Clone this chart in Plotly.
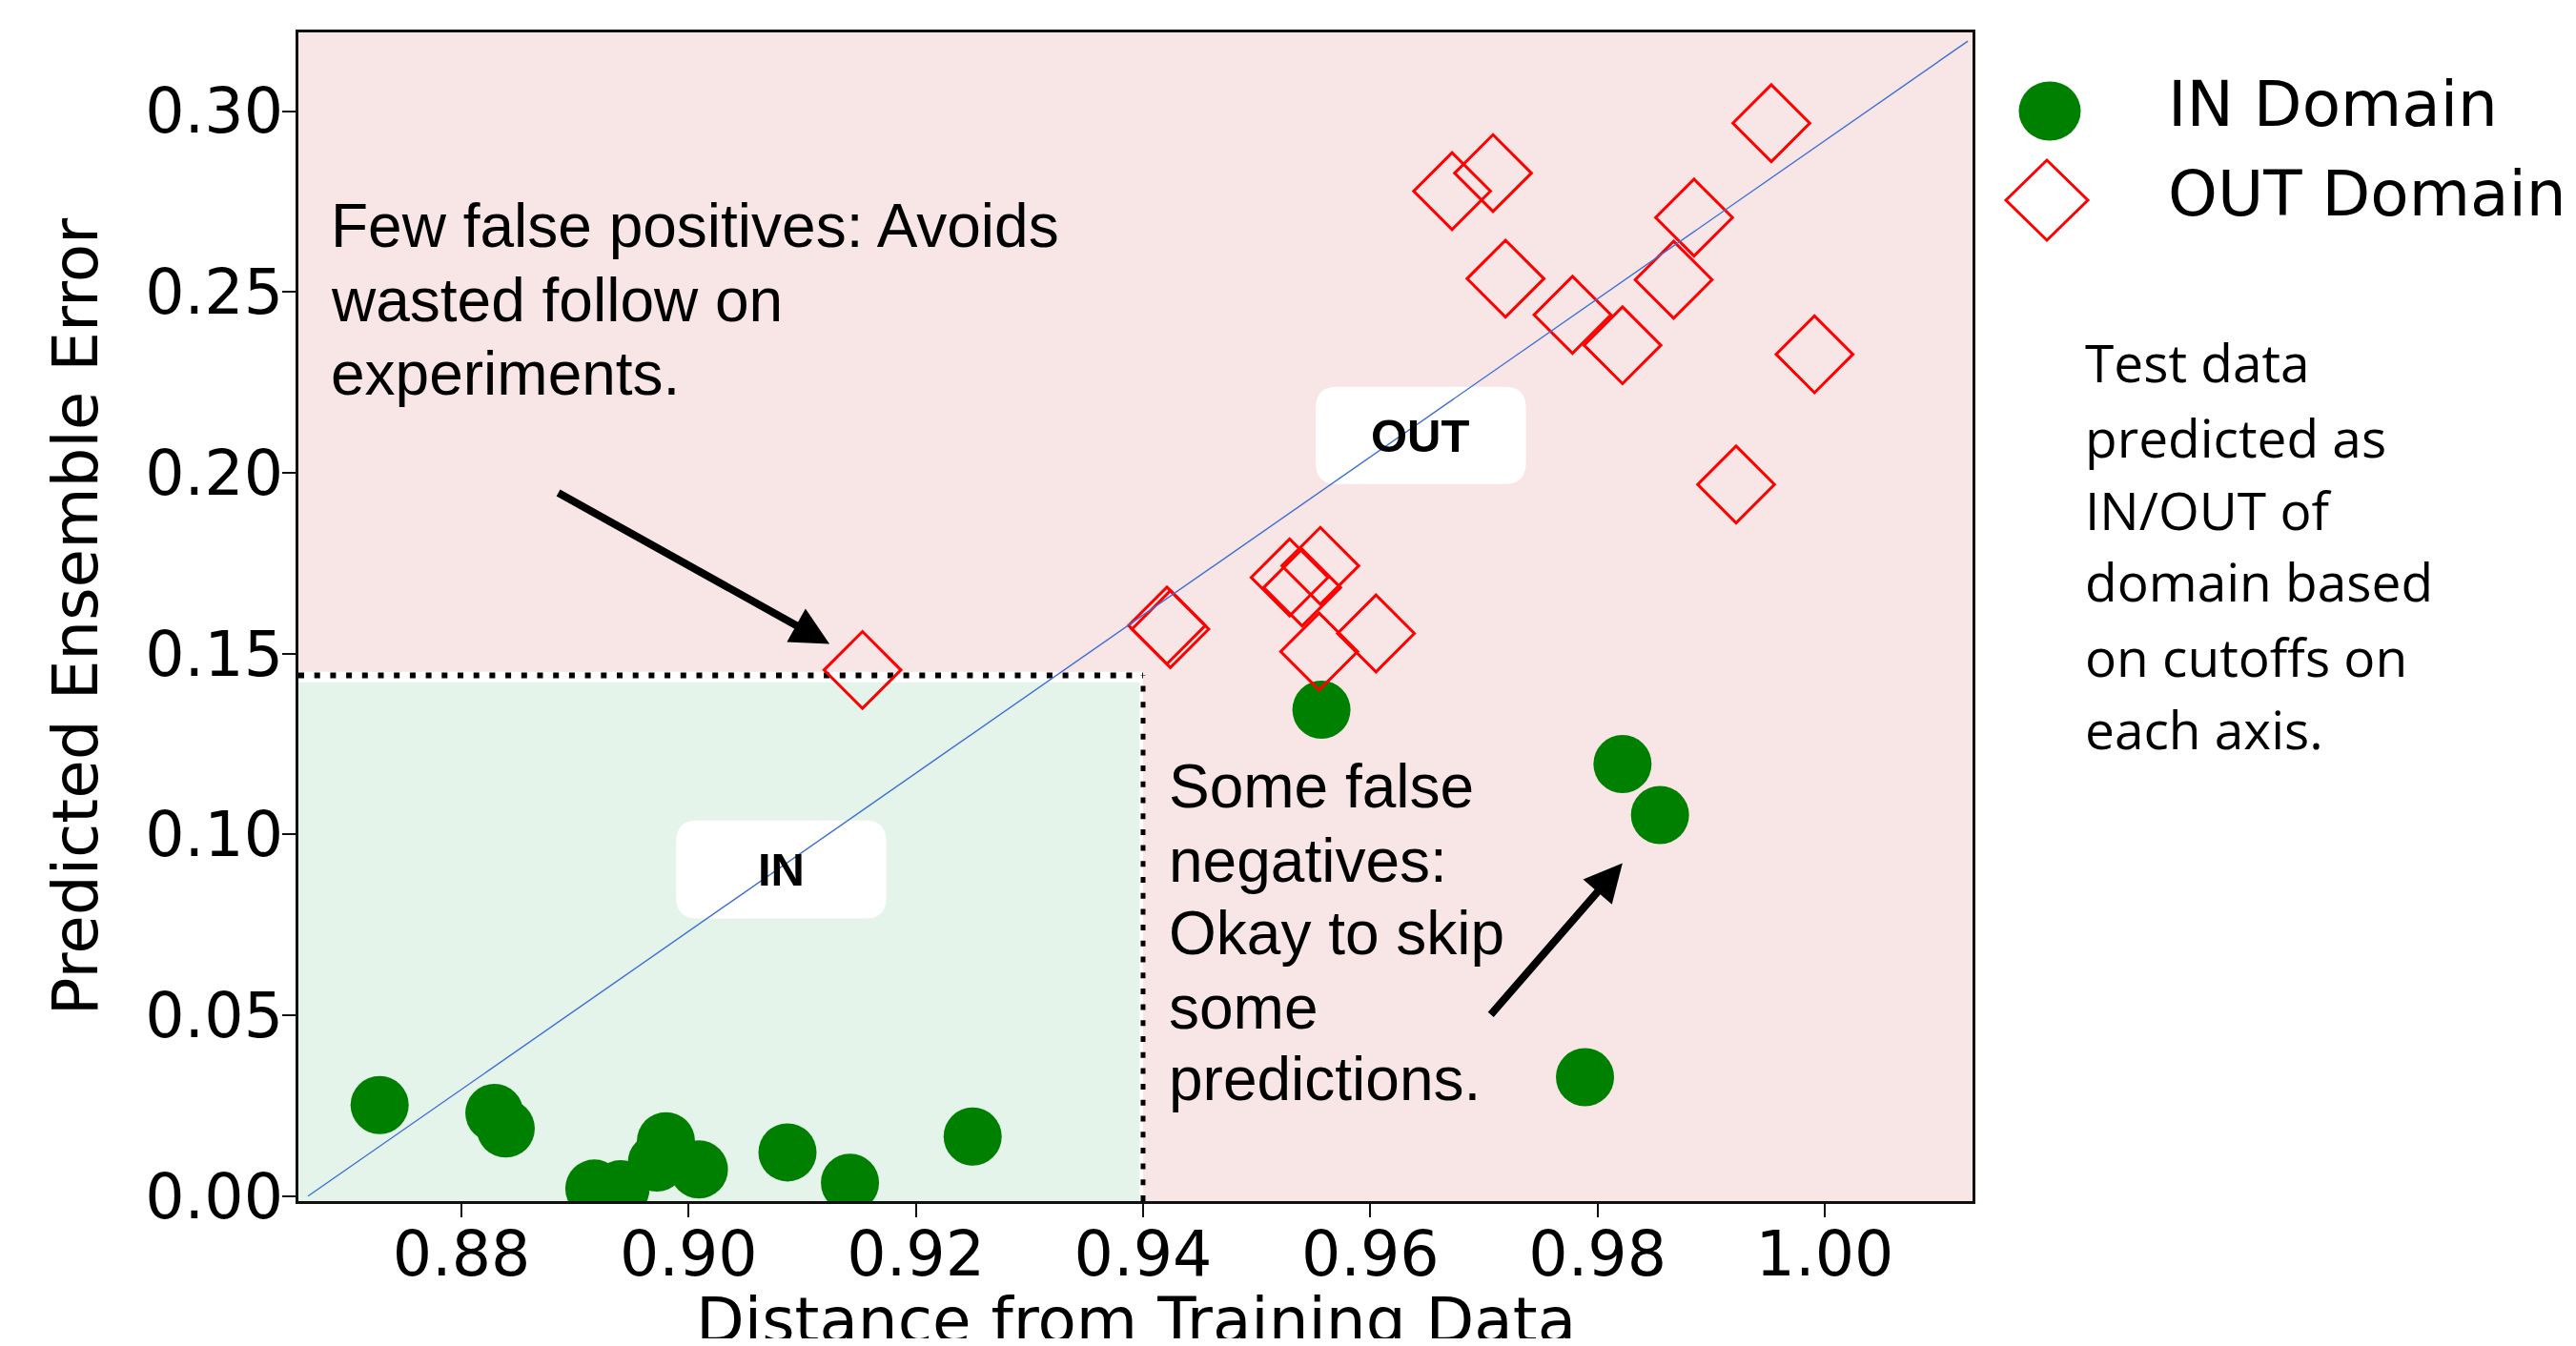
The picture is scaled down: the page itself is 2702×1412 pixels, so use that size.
import plotly.graph_objects as go

# ---------------- data ----------------
in_x = [0.8728, 0.8829, 0.8839, 0.8917, 0.8940, 0.8972, 0.8980, 0.9009, 0.9087, 0.9142, 0.9250, 0.9557, 0.9822, 0.9855, 0.9789]
in_y = [0.0252, 0.0230, 0.0187, 0.0021, 0.0019, 0.0093, 0.0152, 0.0074, 0.0121, 0.0037, 0.0165, 0.1345, 0.1195, 0.1054, 0.0329]

out_x = [0.9953, 0.9708, 0.9672, 0.9885, 0.9719, 0.9867, 0.9778, 0.9822, 0.9991, 0.9922,
         0.9556, 0.9529, 0.9540, 0.9555, 0.9605, 0.9421, 0.9424, 0.9153]
out_y = [0.2967, 0.2829, 0.2779, 0.2706, 0.2537, 0.2534, 0.2437, 0.2353, 0.2328, 0.1968,
         0.1743, 0.1711, 0.1683, 0.1506, 0.1556, 0.1578, 0.1568, 0.1455]

diag_x = [0.8665, 1.0126]
diag_y = [0.0, 0.3194]

x_cut = 0.94
y_cut = 0.1440

x_ticks = [0.88, 0.90, 0.92, 0.94, 0.96, 0.98, 1.00]
y_ticks = [0.00, 0.05, 0.10, 0.15, 0.20, 0.25, 0.30]

x_range = [0.86565, 1.01301]
y_range = [-0.00137, 0.3218]

x_title = "Distance from Training Data"
y_title = "Predicted Ensemble Error"
legend_labels = ["IN Domain", "OUT Domain"]
note_left = ["Few false positives: Avoids", "wasted follow on", "experiments."]
note_mid = ["Some false", "negatives:", "Okay to skip", "some", "predictions."]
note_right = ["Test data", "predicted as", "IN/OUT of", "domain based", "on cutoffs on", "each axis."]

# ---------------- layout geometry ----------------
OFF = 8            # page body margin
W, H = 2702 - 2 * OFF, 1412 - 2 * OFF
ML, MR, MT, MB = 305, 625, 26, 144
PW, PH = W - ML - MR, H - MT - MB

def px2paper(px, py):
    """page pixel -> paper coords"""
    px -= OFF
    py -= OFF
    return (px - ML) / PW, (MT + PH - py) / PH

GREEN = "#008000"
RED = "#ff0000"
PINK = "#f8e5e5"
LGREEN = "#e5f4ea"

fig = go.Figure()

fig.add_trace(go.Scatter(x=in_x, y=in_y, mode="markers", name=legend_labels[0],
                         marker=dict(symbol="circle", size=61, color=GREEN, line=dict(width=0)),
                         showlegend=False))
fig.add_trace(go.Scatter(x=out_x, y=out_y, mode="markers", name=legend_labels[1],
                         marker=dict(symbol="diamond-open", size=62, color=RED, line=dict(width=3, color=RED)),
                         showlegend=False))
fig.add_trace(go.Scatter(x=diag_x, y=diag_y, mode="lines", line=dict(color="#3d6fd6", width=1.4),
                         showlegend=False, hoverinfo="skip"))

shapes = []
shapes.append(dict(type="rect", xref="x", yref="y", x0=x_range[0], x1=x_range[1], y0=y_range[0], y1=y_range[1],
                   fillcolor=PINK, line=dict(width=0), layer="below"))
shapes.append(dict(type="rect", xref="x", yref="y", x0=x_range[0], x1=x_cut, y0=y_range[0], y1=y_cut + 0.0010,
                   fillcolor="white", line=dict(width=0), layer="below"))
shapes.append(dict(type="rect", xref="x", yref="y", x0=x_range[0], x1=x_cut - 0.0003, y0=y_range[0], y1=y_cut - 0.0019,
                   fillcolor=LGREEN, line=dict(width=0), layer="below"))

def rounded_box(x0, x1, y0, y1, rpx=22):
    rx = rpx / PW * (x_range[1] - x_range[0])
    ry = rpx / PH * (y_range[1] - y_range[0])
    return (f"M {x0+rx},{y0} L {x1-rx},{y0} Q {x1},{y0} {x1},{y0+ry} "
            f"L {x1},{y1-ry} Q {x1},{y1} {x1-rx},{y1} "
            f"L {x0+rx},{y1} Q {x0},{y1} {x0},{y1-ry} "
            f"L {x0},{y0+ry} Q {x0},{y0} {x0+rx},{y0} Z")

in_box = (0.8989, 0.9174, 0.0768, 0.1039)
out_box = (0.9552, 0.9737, 0.1969, 0.2238)
for b in (in_box, out_box):
    shapes.append(dict(type="path", xref="x", yref="y", path=rounded_box(*b),
                       fillcolor="white", line=dict(width=0), layer="below"))

dot = "6px,10.7px"
shapes.append(dict(type="line", xref="x", yref="y", x0=x_range[0], x1=x_cut, y0=y_cut, y1=y_cut,
                   line=dict(color="black", width=6, dash=dot), layer="below"))
shapes.append(dict(type="line", xref="x", yref="y", x0=x_cut, x1=x_cut, y0=y_range[0], y1=y_cut,
                   line=dict(color="black", width=5, dash=dot), layer="below"))

# manual legend markers (large)
cx, cy = px2paper(2150, 116.5)
shapes.append(dict(type="circle", xref="paper", yref="paper", xsizemode="pixel", ysizemode="pixel",
                   xanchor=cx, yanchor=cy, x0=-32.5, x1=32.5, y0=-31, y1=31,
                   fillcolor=GREEN, line=dict(width=0)))
dx, dy = px2paper(2147, 210)
shapes.append(dict(type="path", xref="paper", yref="paper", xsizemode="pixel", ysizemode="pixel",
                   xanchor=dx, yanchor=dy, path="M -43,0 L 0,42 L 43,0 L 0,-42 Z",
                   fillcolor="rgba(0,0,0,0)", line=dict(width=3, color=RED)))

annotations = []

def add_lines(lines, left_px, baselines, family, size, off):
    for t, b in zip(lines, baselines):
        px, py = px2paper(left_px - 3, b - off * size)
        annotations.append(dict(text=t, xref="paper", yref="paper", x=px, y=py,
                                xanchor="left", yanchor="middle", showarrow=False,
                                font=dict(family=family, size=size, color="black")))

add_lines(note_left, 348, [259.4, 337.0, 414.0], "Liberation Sans, Arial", 64, 0.35)
add_lines(note_mid, 1227, [847.8, 925.0, 1001.8, 1079.0, 1154.0], "Liberation Sans, Arial", 64, 0.35)
add_lines(note_right, 2188, [401, 479.7, 555.6, 631.4, 710, 785.9], "Open Sans", 55, 0.39)
add_lines(legend_labels, 2275, [132.8, 226.6], "DejaVu Sans", 66, 0.35)

# x axis title, running off the bottom edge as in the reference
tx, ty = px2paper(1191, 1409 - 0.35 * 66)
annotations.append(dict(text=x_title, xref="paper", yref="paper", x=tx, y=ty, xanchor="center", yanchor="middle",
                        showarrow=False, font=dict(family="DejaVu Sans", size=66, color="black")))

for b, t in ((in_box, "IN"), (out_box, "OUT")):
    annotations.append(dict(text=f"<b>{t}</b>", xref="x", yref="y", x=(b[0] + b[1]) / 2, y=(b[2] + b[3]) / 2,
                            showarrow=False, font=dict(family="Liberation Sans, Arial", size=49, color="black")))

arrow_specs = [((0.9124, 0.1527), (0.8884, 0.1947)),
               ((0.9822, 0.0921), (0.9705, 0.0498))]
for (hx, hy), (sx, sy) in arrow_specs:
    annotations.append(dict(text="", x=hx, y=hy, ax=sx, ay=sy, xref="x", yref="y", axref="x", ayref="y",
                            showarrow=True, arrowhead=2, arrowsize=1, arrowwidth=8, arrowcolor="black"))

axis_common = dict(showline=True, linewidth=3, linecolor="#111111", mirror=True, ticks="outside",
                   ticklen=14, tickwidth=2, tickcolor="#111111", showgrid=False, zeroline=False,
                   tickfont=dict(family="DejaVu Sans", size=65, color="black"), tickformat=".2f",
                   automargin=False)

fig.update_layout(
    width=W, height=H,
    margin=dict(l=ML, r=MR, t=MT, b=MB, autoexpand=False),
    paper_bgcolor="white", plot_bgcolor=PINK,
    showlegend=False,
    xaxis=dict(range=x_range, tickvals=x_ticks, ticklabelstandoff=-17, **axis_common),
    yaxis=dict(range=y_range, tickvals=y_ticks, ticklabelstandoff=-14,
               title=dict(text=y_title, standoff=29,
                          font=dict(family="DejaVu Sans", size=66, color="black")),
               **axis_common),
    shapes=shapes,
    annotations=annotations,
)

fig.write_html("out.html")
